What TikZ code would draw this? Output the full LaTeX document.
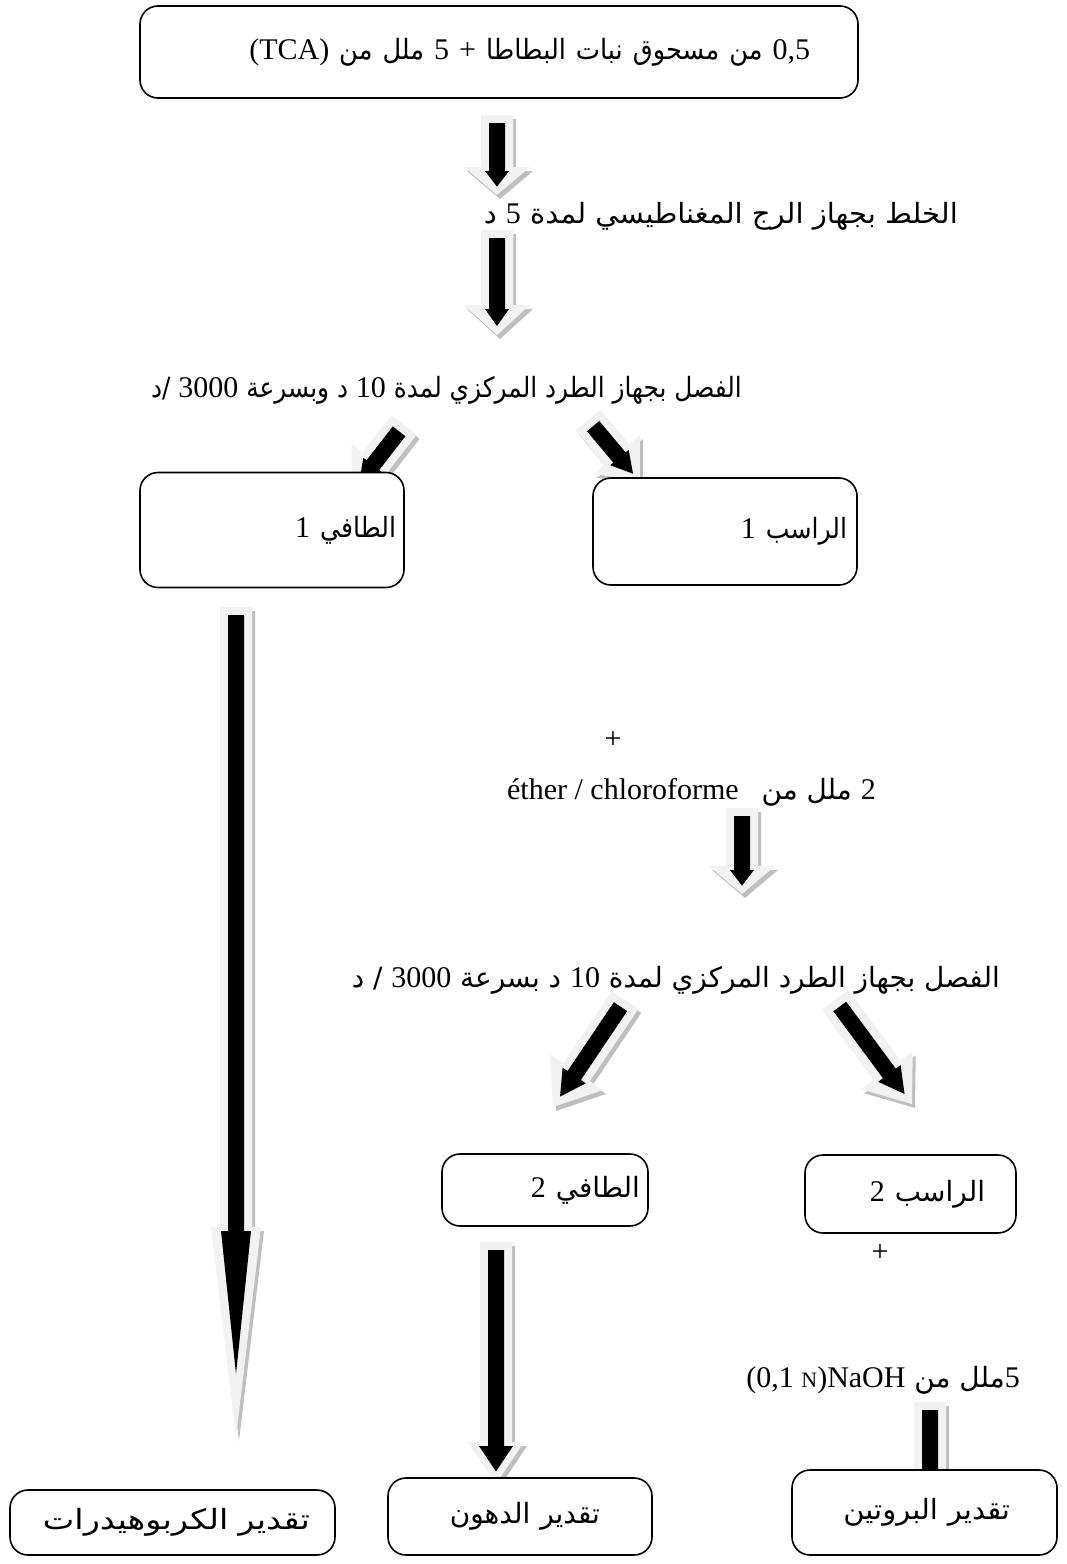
\documentclass[tikz,border=0pt]{standalone}
\usepackage{fontspec}
\setmainfont{Liberation Serif}
\newfontfamily\arabicfont[Script=Arabic,Scale=0.93]{DejaVu Sans}
\TeXXeTstate=1
\usetikzlibrary{calc}
\definecolor{arrowlight}{HTML}{F2F2F2}
\definecolor{arrowshade}{HTML}{BFBFBF}
\pgfdeclarelayer{background}
\pgfsetlayers{background,main}
\newcommand{\artext}[2][1]{{\arabicfont\addfontfeatures{FakeStretch=#1}\beginR #2\endR}}
\newcommand{\latn}[1]{\beginL{\rmfamily #1}\endL{}}
% block arrow: from #1 to #2, head length #3, head half width #4, inner head half width #5
\newcommand{\flowarrow}[5]{%
  \path let \p1=($#2-#1$) in \pgfextra{%
    \pgfmathsetmacro{\arrlen}{veclen(\x1,\y1)}%
    \pgfmathsetmacro{\arrang}{atan2(\y1,\x1)}%
    \xdef\arrlen{\arrlen}\xdef\arrang{\arrang}};
  \begin{scope}[shift={#1}]
    \fill[arrowshade,shift={(3,4)},rotate=\arrang] (0,-16) -- ({\arrlen-#3},-16) -- ({\arrlen-#3},-#4)
      -- (\arrlen,0) -- ({\arrlen-#3},#4) -- ({\arrlen-#3},16) -- (0,16) -- cycle;
    \fill[arrowlight,rotate=\arrang] (0,-16) -- ({\arrlen-#3},-16) -- ({\arrlen-#3},-#4)
      -- (\arrlen,0) -- ({\arrlen-#3},#4) -- ({\arrlen-#3},16) -- (0,16) -- cycle;
    \fill[black,rotate=\arrang] (8,-8) -- ({\arrlen-#3+4},-8) -- ({\arrlen-#3+4},-#5)
      -- ({\arrlen-0.3*#3},0) -- ({\arrlen-#3+4},#5) -- ({\arrlen-#3+4},8) -- (8,8) -- cycle;
  \end{scope}}

\begin{document}
\begin{tikzpicture}[x=1pt,y=-1pt,font=\fontsize{30}{36}\selectfont,
  stagebox/.style n args={3}{draw,line width=1.6pt,rounded corners=18pt,fill=white,
    align=right,text width=#1,inner xsep=#2,inner ysep=0pt,minimum height=#3},
  steptext/.style={anchor=east,inner sep=0pt}]
  \useasboundingbox (0,0) rectangle (1067,1564);
  % ---- boxes
  \node[stagebox={622pt}{48pt}{92pt}] (sample) at (499,52)
    {\artext[0.92]{\latn{0,5} من مسحوق نبات البطاطا \latn{+} \latn{5} ملل من \latn{(TCA)}}};
  \node[stagebox={248pt}{8pt}{115pt}] (super1) at (272,530) {\artext[0.9]{الطافي \latn{1}}};
  \node[stagebox={244pt}{10pt}{107pt}] (pellet1) at (725,531.5) {\artext[0.9]{الراسب \latn{1}}};
  \node[stagebox={190pt}{8pt}{72pt}] (super2) at (545,1190) {\artext{الطافي \latn{2}}};
  \node[stagebox={149pt}{31pt}{78pt}] (pellet2) at (910.5,1194) {\artext{الراسب \latn{2}}};
  \node[stagebox={275pt}{25pt}{65pt}] (carbs) at (172.5,1522.5) {\artext[1.2]{تقدير الكربوهيدرات}};
  \node[stagebox={160pt}{52pt}{77pt}] (lipids) at (520,1516.5) {\artext{تقدير الدهون}};
  \node[stagebox={171pt}{47pt}{85pt}] (protein) at (924.5,1512.5) {\artext[1.04]{تقدير البروتين}};
  % ---- step texts
  \node[steptext] (mixing) at (958,216) {\artext[1.04]{الخلط بجهاز الرج المغناطيسي  لمدة \latn{5} د}};
  \node[steptext] (spin1) at (742,390)
    {\artext[0.89]{الفصل بجهاز الطرد المركزي لمدة \latn{10} د وبسرعة \latn{3000} /د}};
  \node (plus1) at (613,740) {+};
  \node[steptext] (solvent) at (876,792)
    {\artext{\latn{2} ملل من\hspace{14pt} \latn{éther / chloroforme}}};
  \node[steptext] (spin2) at (1000,980)
    {\artext{الفصل بجهاز  الطرد المركزي لمدة \latn{10} د بسرعة \latn{3000} / د}};
  \node (plus2) at (880,1253) {+};
  \node[steptext] (naoh) at (1020,1380)
    {\artext{\latn{5}ملل من \latn{(0,1 {\fontsize{22}{26}\selectfont N})NaOH}}};
  % ---- arrow ends
  \coordinate (mixtop) at (497,115);  \coordinate (mixbot) at (497,195);
  \coordinate (spintop) at (497,230); \coordinate (spinbot) at (497,335);
  \coordinate (lefttop) at (404,425); \coordinate (leftbot) at (352,492);
  \coordinate (righttop) at (588,420); \coordinate (rightbot) at (640,482);
  \coordinate (soltop) at (742,808);  \coordinate (solbot) at (742,894);
  \coordinate (lefttop2) at (625,1000); \coordinate (leftbot2) at (553,1107);
  \coordinate (righttop2) at (835,1000); \coordinate (rightbot2) at (912,1104);
  \coordinate (carbtop) at (236,607); \coordinate (carbbot) at (236,1437);
  \coordinate (lipidtop) at (496,1242); \coordinate (lipidbot) at (496,1484);
  \coordinate (naohtop) at (930,1402); \coordinate (naohbot) at (930,1530);
  \begin{pgfonlayer}{background}
    \flowarrow{(mixtop)}{(mixbot)}{28}{33}{12}
    \flowarrow{(spintop)}{(spinbot)}{30}{33}{12}
    \flowarrow{(lefttop)}{(leftbot)}{38}{30}{12}
    \flowarrow{(righttop)}{(rightbot)}{36}{30}{12}
    \flowarrow{(soltop)}{(solbot)}{28}{33}{12}
    \flowarrow{(lefttop2)}{(leftbot2)}{42}{32}{14}
    \flowarrow{(righttop2)}{(rightbot2)}{42}{32}{14}
    \flowarrow{(carbtop)}{(carbbot)}{210}{25}{15}
    \flowarrow{(lipidtop)}{(lipidbot)}{42}{28}{17}
    \flowarrow{(naohtop)}{(naohbot)}{30}{28}{14}
  \end{pgfonlayer}
\end{tikzpicture}
\end{document}
